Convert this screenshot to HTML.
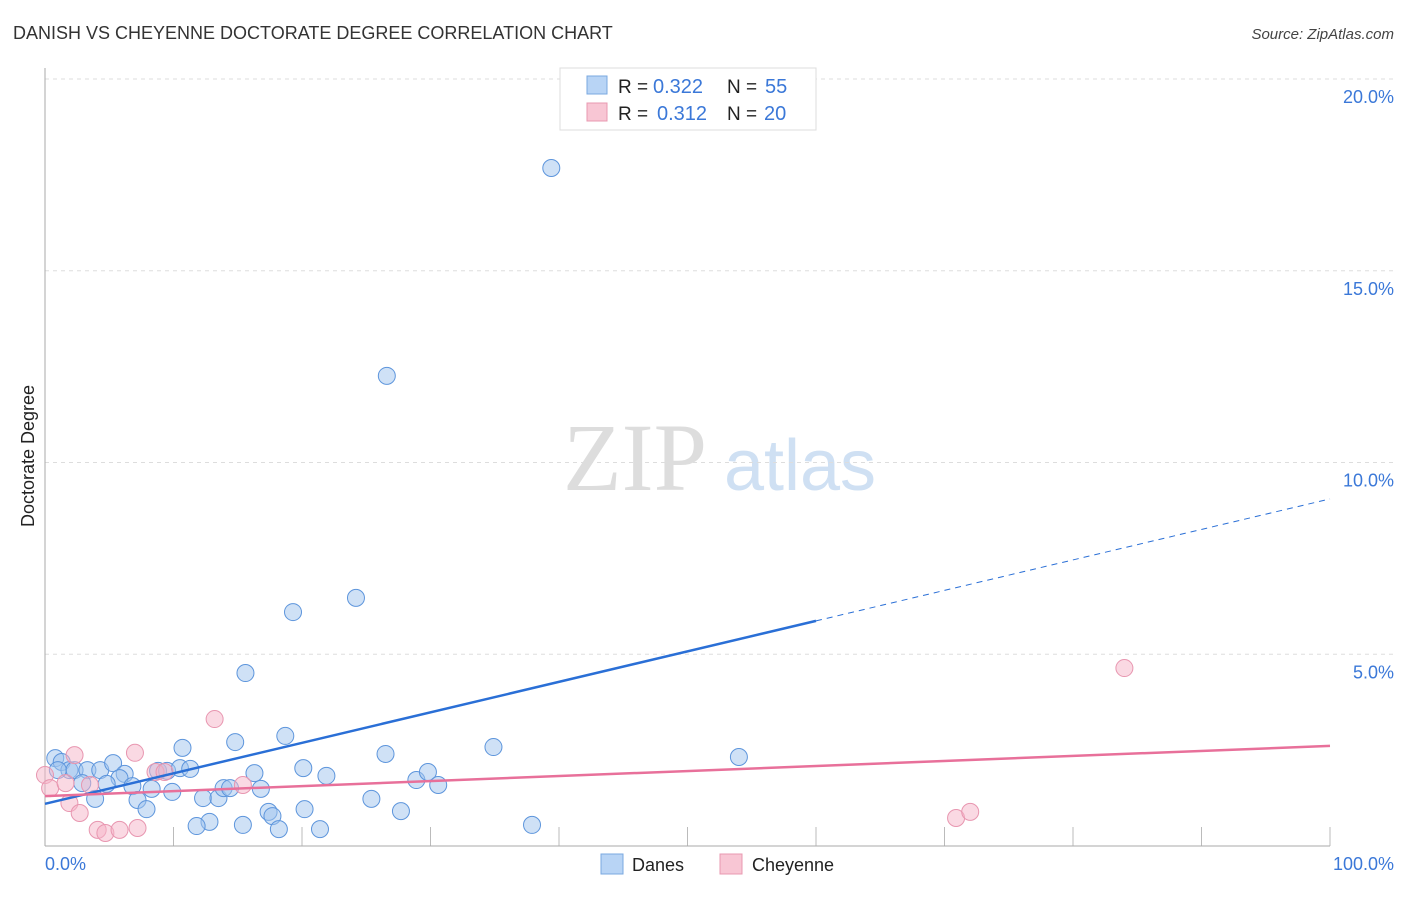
<!DOCTYPE html>
<html><head><meta charset="utf-8"><style>
body{margin:0;background:#fff;font-family:"Liberation Sans",sans-serif}
</style></head><body>
<svg width="1406" height="892" xmlns="http://www.w3.org/2000/svg">
<text x="13" y="39" font-size="18" fill="#333">DANISH VS CHEYENNE DOCTORATE DEGREE CORRELATION CHART</text>
<text x="1394" y="39" font-size="15" fill="#444" font-style="italic" text-anchor="end">Source: ZipAtlas.com</text>
<text x="635" y="490" font-size="96" fill="#ddd" font-family="Liberation Serif,serif" text-anchor="middle">ZIP</text>
<text x="800" y="490" font-size="72" fill="#cfe0f3" text-anchor="middle">atlas</text>
<g id="grid"></g>
<line x1="45" y1="68" x2="45" y2="846" stroke="#aaa"/>
<line x1="45" y1="846" x2="1330" y2="846" stroke="#aaa"/>
<text x="34" y="456" font-size="18" fill="#222" text-anchor="middle" transform="rotate(-90 34 456)">Doctorate Degree</text>
<text x="45" y="870" font-size="18" fill="#3b78d8">0.0%</text>
<text x="1394" y="870" font-size="18" fill="#3b78d8" text-anchor="end">100.0%</text>
<g id="pts"></g>
<g id="trend"></g>
<g>
<rect x="560" y="68" width="256" height="62" fill="#fff" stroke="#ddd"/>
<rect x="587" y="76" width="20" height="18" fill="#b8d4f5" stroke="#7aa8e0"/>
<rect x="587" y="103" width="20" height="18" fill="#f8c6d4" stroke="#e898b0"/>
<text x="618" y="93" font-size="19" fill="#222">R =</text>
<text x="653" y="93" font-size="20" fill="#3b78d8">0.322</text>
<text x="727" y="93" font-size="19" fill="#222">N =</text>
<text x="765" y="93" font-size="20" fill="#3b78d8">55</text>
<text x="618" y="120" font-size="19" fill="#222">R =</text>
<text x="657" y="120" font-size="20" fill="#3b78d8">0.312</text>
<text x="727" y="120" font-size="19" fill="#222">N =</text>
<text x="764" y="120" font-size="20" fill="#3b78d8">20</text>
</g>
<g>
<rect x="601" y="854" width="22" height="20" fill="#b8d4f5" stroke="#7aa8e0"/>
<text x="632" y="871" font-size="18" fill="#222">Danes</text>
<rect x="720" y="854" width="22" height="20" fill="#f8c6d4" stroke="#e898b0"/>
<text x="752" y="871" font-size="18" fill="#222">Cheyenne</text>
</g>
</svg>
<script>
const yTicks=[5,10,15,20];
const yTickLabels=["5.0%","10.0%","15.0%","20.0%"];
const danesX=[0.8,1.3,1.9,1.0,2.3,3.3,4.3,5.3,6.2,5.8,4.8,3.9,2.9,6.8,7.2,7.9,8.3,8.8,9.5,9.9,10.5,11.3,10.7,12.3,12.8,11.8,13.5,13.9,14.4,14.8,15.6,15.4,16.3,16.8,17.4,17.7,18.2,18.7,19.3,20.1,20.2,21.4,21.9,24.2,25.4,26.5,26.6,27.7,28.9,29.8,30.6,34.9,37.9,39.4,54.0];
const danesY=[2.29,2.19,1.98,1.98,1.98,1.98,1.98,2.16,1.88,1.77,1.62,1.23,1.64,1.56,1.2,0.96,1.49,1.96,1.96,1.41,2.03,2.01,2.56,1.25,0.63,0.52,1.25,1.51,1.51,2.71,4.51,0.55,1.9,1.49,0.89,0.78,0.44,2.87,6.1,2.03,0.96,0.44,1.83,6.47,1.23,2.4,12.26,0.91,1.72,1.93,1.59,2.58,0.55,17.68,2.32];
const cheyX=[0,0.4,1.6,2.3,1.9,2.7,3.5,4.1,4.7,5.8,7.0,7.2,8.6,9.3,13.2,15.4,70.9,72.0,84.0];
const cheyY=[1.85,1.51,1.64,2.37,1.12,0.86,1.59,0.42,0.34,0.42,2.43,0.47,1.93,1.93,3.31,1.59,0.73,0.89,4.64];
const danesTrend=[1.10,9.05];
const cheyTrend=[1.30,2.61];
const xs=v=>45+v*12.85, ys=v=>846-v*38.35;
const NS="http://www.w3.org/2000/svg";
function mk(t,a,p){const e=document.createElementNS(NS,t);for(const k in a)e.setAttribute(k,a[k]);p.appendChild(e);return e;}
const grid=document.getElementById('grid');
yTicks.forEach((t,i)=>{
const l=mk('line',{x1:45,x2:1394,y1:ys(t),y2:ys(t),stroke:'#ddd','stroke-dasharray':'4,4'},grid);


const tx=mk('text',{x:1394,y:ys(t)+24,'font-size':18,fill:'#3b78d8','text-anchor':'end'},grid);
tx.textContent=yTickLabels[i];


});
for(let i=1;i<=10;i++){const l=mk('line',{x1:45+i*128.5,x2:45+i*128.5,y1:827,y2:846,stroke:'#bbb'},grid);

}
const pts=document.getElementById('pts');
danesX.forEach((x,i)=>{const c=mk('circle',{cx:xs(x),cy:ys(danesY[i]),r:8.5,fill:'rgba(160,196,238,0.5)',stroke:'#5d95dc','stroke-width':1},pts);

});
cheyX.forEach((x,i)=>{const c=mk('circle',{cx:xs(x),cy:ys(cheyY[i]),r:8.5,fill:'rgba(245,180,200,0.5)',stroke:'#e896b0','stroke-width':1},pts);

});
const tr=document.getElementById('trend');
const bAt=x=>danesTrend[0]+(danesTrend[1]-danesTrend[0])*x/100;
let l1=mk('line',{x1:xs(0),y1:ys(bAt(0)),x2:xs(60),y2:ys(bAt(60)),stroke:'#2a6fd6','stroke-width':2.5},tr);


let l2=mk('line',{x1:xs(60),y1:ys(bAt(60)),x2:xs(100),y2:ys(bAt(100)),stroke:'#2a6fd6','stroke-width':1,'stroke-dasharray':'6,5'},tr);


let l3=mk('line',{x1:xs(0),y1:ys(cheyTrend[0]),x2:xs(100),y2:ys(cheyTrend[1]),stroke:'#e8709a','stroke-width':2.5},tr);


</script>
</body></html>
